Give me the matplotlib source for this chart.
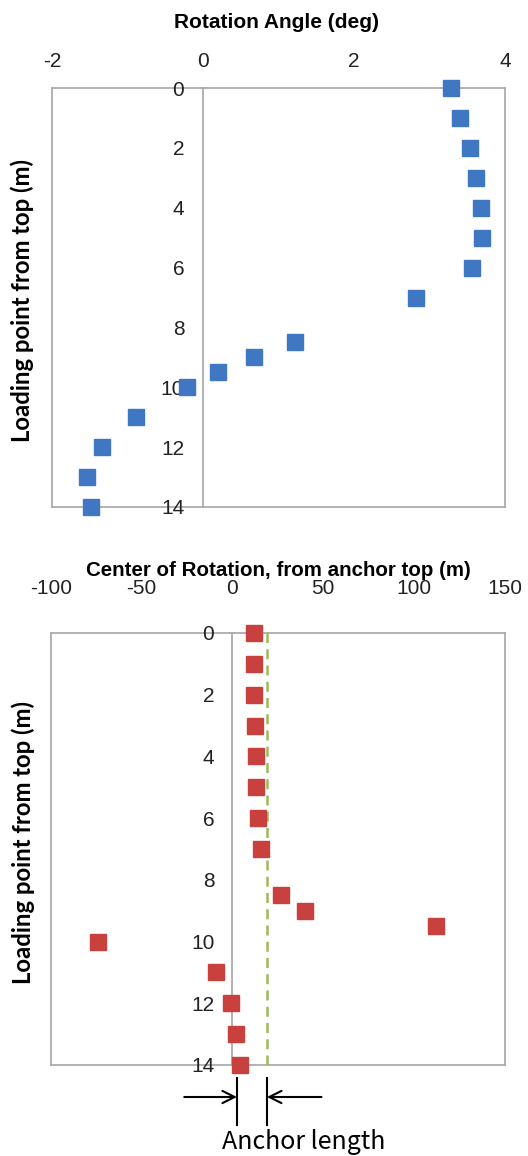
import matplotlib
matplotlib.use("Agg")
import matplotlib.pyplot as plt

plt.rcParams["axes.unicode_minus"] = False

# Loading point depth from top (m)
depth = [0, 1, 2, 3, 4, 5, 6, 7, 8.5, 9, 9.5, 10, 11, 12, 13, 14]

# Rotation angle at each loading point (deg)
rotation_deg = [3.29, 3.41, 3.53, 3.62, 3.68, 3.70, 3.56, 2.82,
                1.22, 0.68, 0.20, -0.21, -0.89, -1.34, -1.53, -1.48]

# Center of rotation measured from anchor top (m)
center_rot = [12, 12, 12, 12.5, 13.2, 13.2, 14, 15.8,
              26.6, 39.8, 112.3, -73.9, -9.2, -0.7, 2.2, 4.1]

anchor_length = 19
anchor_mark_left = 2.5

top_xticks = [-2, 0, 2, 4]
bot_xticks = [-100, -50, 0, 50, 100, 150]
yticks = [0, 2, 4, 6, 8, 10, 12, 14]

W, H = 528, 1156
BORDER = "#a6a6a6"
BLUE = "#4077c2"
RED = "#c8413e"
GREEN = "#9bbb59"
TICK_FONT = "Liberation Sans"


def px_axes(fig, left, top, right, bottom):
    return fig.add_axes([left / W, 1 - bottom / H, (right - left) / W, (bottom - top) / H])


def style_axes(ax, xlim, xticks, xpad, ypad):
    ax.set_xlim(*xlim)
    ax.set_ylim(14, 0)
    ax.set_xticks(xticks)
    ax.set_yticks(yticks)
    ax.xaxis.tick_top()
    # vertical axis crosses at x = 0, labels sit just left of it
    ax.spines["left"].set_position(("data", 0))
    for s in ax.spines.values():
        s.set_color(BORDER)
        s.set_linewidth(1.2)
        s.set_zorder(1)
    ax.axvline(xlim[0], color=BORDER, lw=1.2, clip_on=False, zorder=1)
    ax.tick_params(axis="both", length=0, labelsize=15, colors="#222222")
    ax.tick_params(axis="x", pad=xpad)
    ax.tick_params(axis="y", pad=ypad)
    for lab in ax.get_xticklabels() + ax.get_yticklabels():
        lab.set_fontfamily(TICK_FONT)
    ax.set_facecolor("white")


fig = plt.figure(figsize=(W / 100, H / 100), dpi=100)

# Rotation angle profile
ax1 = px_axes(fig, 52, 88, 505, 507)
style_axes(ax1, (-2, 4), top_xticks, 12, 13.5)
ax1.plot(rotation_deg, depth, ls="none", marker="s", ms=11.5,
         mfc=BLUE, mec=BLUE, clip_on=False, zorder=2)
fig.text(277 / W, 1 - 23 / H, "Rotation Angle (deg)", ha="center", va="center",
         fontsize=15, fontweight="bold", family="Liberation Sans")
fig.text(22 / W, 1 - 301 / H, "Loading point from top (m)", ha="center", va="center",
         rotation=90, fontsize=17.2, fontweight="bold", family="Lato")

# Center of rotation profile
ax2 = px_axes(fig, 50.7, 633, 505, 1065)
style_axes(ax2, (-100, 150), bot_xticks, 25, 13)
ax2.axvline(anchor_length, color=GREEN, ls=(0, (4, 2.5)), lw=1.8, zorder=1.5)
ax2.plot(center_rot, depth, ls="none", marker="s", ms=11.5,
         mfc=RED, mec=RED, clip_on=False, zorder=2)
fig.text(278 / W, 1 - 570 / H, "Center of Rotation, from anchor top (m)", ha="center",
         va="center", fontsize=14.8, fontweight="bold", family="Liberation Sans")
fig.text(23 / W, 1 - 843 / H, "Loading point from top (m)", ha="center", va="center",
         rotation=90, fontsize=17.2, fontweight="bold", family="Lato")

# Anchor length dimension marks below the plot
trans = ax2.get_xaxis_transform()
y_top = 1 - (1078 - 633) / (1065 - 633)
y_bot = 1 - (1125 - 633) / (1065 - 633)
y_arr = 1 - (1097 - 633) / (1065 - 633)
for xv in (anchor_mark_left, anchor_length):
    ax2.plot([xv, xv], [y_top, y_bot], transform=trans, color="black", lw=1.5,
             clip_on=False)
ax2.annotate("", xy=(anchor_mark_left, y_arr), xycoords=trans,
             xytext=(anchor_mark_left - 29, y_arr), textcoords=trans,
             arrowprops=dict(arrowstyle="->", color="black", lw=1.5,
                             mutation_scale=22, shrinkA=0, shrinkB=0))
ax2.annotate("", xy=(anchor_length, y_arr), xycoords=trans,
             xytext=(anchor_length + 30, y_arr), textcoords=trans,
             arrowprops=dict(arrowstyle="->", color="black", lw=1.5,
                             mutation_scale=22, shrinkA=0, shrinkB=0))
fig.text(304 / W, 1 - 1142 / H, "Anchor length", ha="center", va="center",
         fontsize=18, family=["Noto Sans CJK KR", "DejaVu Sans"])

fig.savefig("out.png", dpi=100, facecolor="white")
